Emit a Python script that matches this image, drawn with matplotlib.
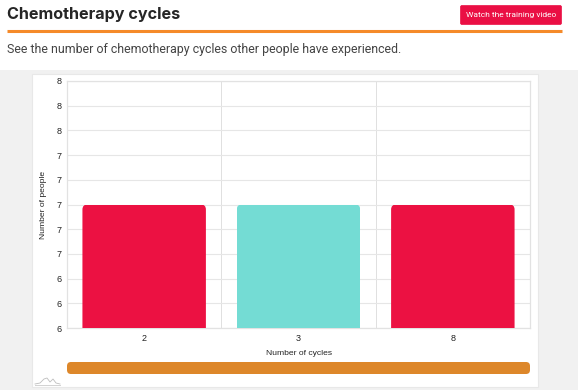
import matplotlib.pyplot as plt
from matplotlib.patches import FancyBboxPatch, Rectangle
from matplotlib.ticker import MultipleLocator, FormatStrFormatter
from matplotlib.transforms import IdentityTransform

# Chart data
cycles = ['2', '3', '8']
people = [7, 7, 7]
bar_colors = ['#ec1142', '#74dcd4', '#ec1142']

W, H = 578, 390
fig = plt.figure(figsize=(W / 100, H / 100), dpi=100, facecolor='#f1f1f1')

# Page layer in pixel coordinates
page = fig.add_axes([0, 0, 1, 1])
page.set_xlim(0, W)
page.set_ylim(H, 0)
page.axis('off')

# Header and card
page.add_patch(Rectangle((0, 0), W, 69.5, color='white', lw=0))
page.add_patch(Rectangle((32, 74), 506, 313, facecolor='white', edgecolor='#e8e8e8', lw=0.8))
page.plot([7, 562], [31.3, 31.3], color='#f58a2a', lw=2.2, solid_capstyle='butt')

title = page.text(7, 15, 'Chemotherapy cycles', family='Inter', weight='bold',
                  fontsize=11.65, color='#262626', va='center')
page.text(7, 50, 'See the number of chemotherapy cycles other people have experienced.',
          family='Roboto', fontsize=8.9, color='#444444', va='center')

# Training video button
page.add_patch(FancyBboxPatch((460.5, 5.5), 101, 19, boxstyle='round,pad=0,rounding_size=1.5',
                              facecolor='#ea0f44', edgecolor='#ea0f44', lw=0.5))
page.text(511, 15, 'Watch the training video', family='Roboto', fontsize=6.05,
          color='white', ha='center', va='center')

# Scrollbar under the chart
page.add_patch(FancyBboxPatch((71, 366), 455, 4, boxstyle='round,pad=4,rounding_size=4',
                              facecolor='#dd872a', edgecolor='none'))

# Little logo in the bottom left corner
page.plot([35, 40, 44, 47, 50, 53, 56, 60], [384, 383, 379, 378, 382, 379, 383, 384],
          color='#bdbdbd', lw=0.6)
page.plot([35, 60], [384.5, 384.5], color='#d2d2d2', lw=0.7)

# The bar chart
ax = fig.add_axes([67 / W, 1 - 328 / H, (530 - 67) / W, (328 - 81) / H])
ax.set_facecolor('white')
bars = ax.bar(cycles, people, width=0.8, color=bar_colors, zorder=3)
ax.set_xlim(-0.5, 2.5)
ax.set_ylim(6, 8)
ax.yaxis.set_major_locator(MultipleLocator(0.2))
ax.yaxis.set_major_formatter(FormatStrFormatter('%.0f'))
ax.set_xticks([0.5, 1.5], minor=True)
ax.grid(True, axis='y', color='#e6e6e6', lw=0.8, zorder=0)
ax.grid(True, axis='x', which='minor', color='#e0e0e0', lw=0.7, zorder=0)
ax.grid(False, axis='x', which='major')
ax.tick_params(axis='both', which='both', length=0, labelsize=6.5, labelcolor='#222222')
ax.tick_params(axis='x', pad=4.5)
ax.tick_params(axis='y', pad=4)
for s in ax.spines.values():
    s.set_color('#e2e2e2')
    s.set_linewidth(0.9)
for lab in ax.get_xticklabels() + ax.get_yticklabels():
    lab.set_family('Liberation Sans')
ax.set_xlabel('Number of cycles', family='Liberation Sans', fontsize=6.1, color='#222222', labelpad=5)
ax.yaxis.set_label_coords((47 - 67) / (530 - 67), 0.5)
ax.set_ylabel('Number of people', family='Liberation Sans', fontsize=6.1, color='#222222')

# Round the top corners of the bars
fig.canvas.draw()
for bar in bars:
    (x0, y0), (x1, y1) = ax.transData.transform([(bar.get_x(), bar.get_y()),
                                                 (bar.get_x() + bar.get_width(), bar.get_height())])
    clip = FancyBboxPatch((x0, y0 - 10), x1 - x0, y1 - y0 + 10,
                          boxstyle='round,pad=0,rounding_size=5', transform=IdentityTransform())
    bar.set_clip_path(clip)

fig.savefig('out.png', dpi=100, facecolor=fig.get_facecolor())
